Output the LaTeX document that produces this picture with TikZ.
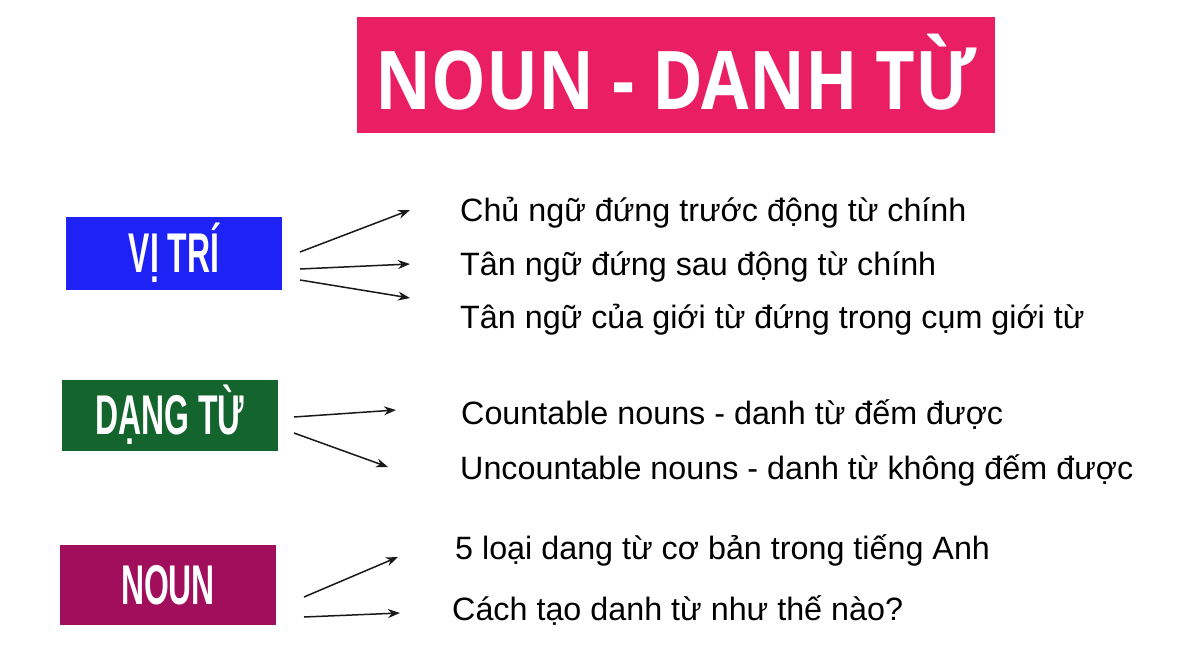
\documentclass[tikz,border=0pt]{standalone}
\usepackage{fontspec}
\setmainfont{Liberation Sans}
\newfontfamily\titlefont[FakeStretch=0.85]{Open Sans}
\newfontfamily\boxfont[FakeStretch=0.57]{Liberation Sans}
\usetikzlibrary{arrows.meta}

\definecolor{titlepink}{RGB}{233,30,99}
\definecolor{vitriblue}{RGB}{30,34,245}
\definecolor{dangtugreen}{RGB}{20,100,46}
\definecolor{nounpurple}{RGB}{160,14,92}

\begin{document}
\begin{tikzpicture}[x=1pt,y=-1pt,
  headbox/.style={rectangle,fill=#1,text=white,inner sep=0pt,
    font=\boxfont\bfseries\fontsize{56}{56}\selectfont},
  item/.style={anchor=base west,inner sep=0pt,
    font=\fontsize{32.3}{32.3}\selectfont},
  arr/.style={-{Stealth[length=12pt,width=9pt]},line width=1.5pt,black!90}]
\useasboundingbox (0,0) rectangle (1200,650);

\node [rectangle,fill=titlepink,text=white,inner sep=0pt,minimum width=638pt,minimum height=116pt,
  text height=70pt,text depth=0pt,
  font=\titlefont\bfseries\fontsize{81}{81}\selectfont] (title) at (676,75) {NOUN - DANH TỪ};

\node [headbox=vitriblue,minimum width=216pt,minimum height=73pt] (vitri) at (174,253) {VỊ TRÍ};
\node [headbox=dangtugreen,minimum width=216pt,minimum height=71pt] (dangtu) at (170,415) {DẠNG TỪ};
\node [headbox=nounpurple,minimum width=216pt,minimum height=80pt] (noun) at (168,585) {NOUN};

\node [item] (vt1) at (460,222) {Chủ ngữ đứng trước động từ chính};
\node [item] (vt2) at (460,275) {Tân ngữ đứng sau động từ chính};
\node [item] (vt3) at (460,328) {Tân ngữ của giới từ đứng trong cụm giới từ};
\node [item] (dt1) at (461,424) {Countable nouns - danh từ đếm được};
\node [item] (dt2) at (460,479) {Uncountable nouns - danh từ không đếm được};
\node [item] (n1) at (455,559) {5 loại dang từ cơ bản trong tiếng Anh};
\node [item] (n2) at (452,620) {Cách tạo danh từ như thế nào?};

\coordinate (vtA) at (300,252);
\coordinate (vtB) at (300,269);
\coordinate (vtC) at (300,280);
\coordinate (vt1e) at (410,210);
\coordinate (vt2e) at (410,264);
\coordinate (vt3e) at (410,298);
\coordinate (dtA) at (294,417);
\coordinate (dtB) at (294,433);
\coordinate (dt1e) at (396,410);
\coordinate (dt2e) at (388,467);
\coordinate (nA) at (304,597);
\coordinate (nB) at (304,617);
\coordinate (n1e) at (398,557);
\coordinate (n2e) at (400,613);

\draw [arr] (vtA) -- (vt1e);
\draw [arr] (vtB) -- (vt2e);
\draw [arr] (vtC) -- (vt3e);
\draw [arr] (dtA) -- (dt1e);
\draw [arr] (dtB) -- (dt2e);
\draw [arr] (nA) -- (n1e);
\draw [arr] (nB) -- (n2e);
\end{tikzpicture}
\end{document}
